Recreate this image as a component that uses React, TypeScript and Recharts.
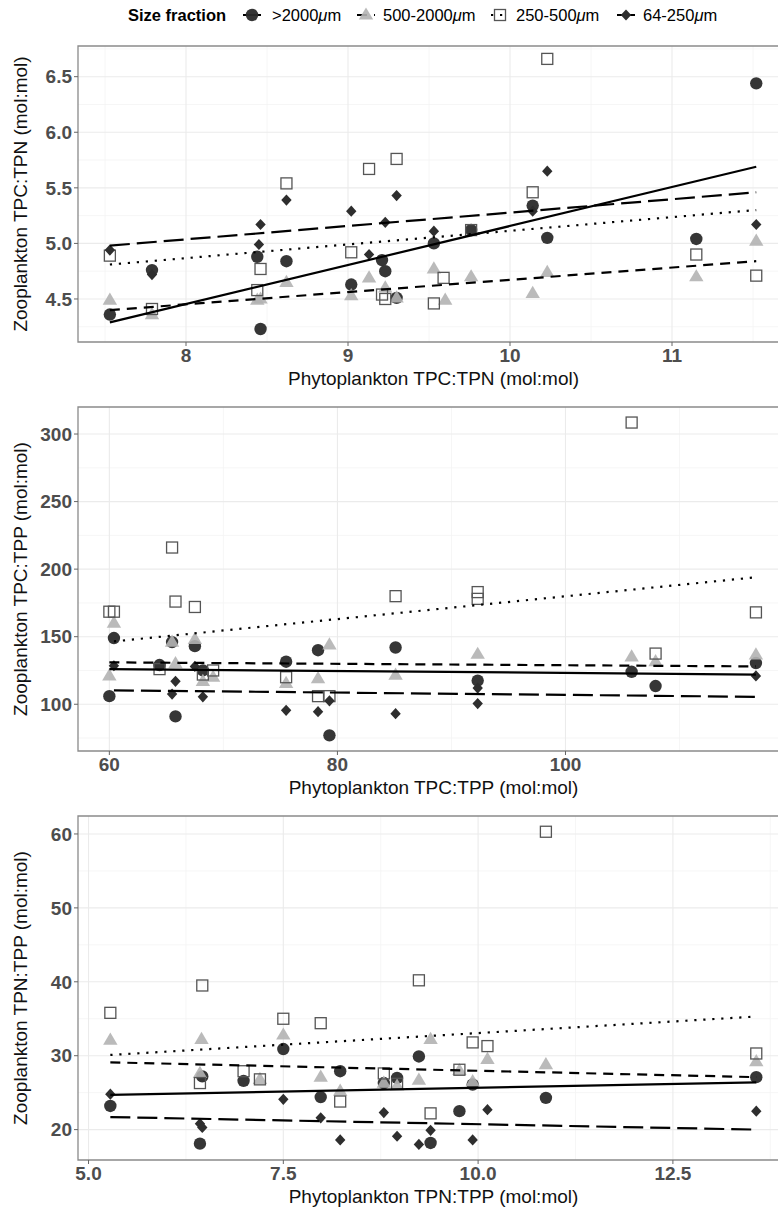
import React from 'react';
import { ScatterChart, Scatter, XAxis, YAxis, CartesianGrid, ReferenceArea, Label } from 'recharts';

const FONT = '"Liberation Sans", Arial, Helvetica, sans-serif';

type Pt = [number, number];

// ---------- Panel 1: TPC:TPN ----------
const cnCircles: Pt[] = [[7.53,4.36],[7.79,4.76],[8.44,4.88],[8.46,4.23],[8.62,4.84],[9.02,4.63],[9.21,4.85],[9.23,4.75],[9.30,4.51],[9.53,5.00],[9.76,5.12],[10.14,5.34],[10.23,5.05],[11.15,5.04],[11.52,6.44]];
const cnTriangles: Pt[] = [[7.53,4.49],[7.79,4.36],[8.44,4.49],[8.46,4.50],[8.62,4.65],[9.02,4.53],[9.13,4.69],[9.23,4.60],[9.30,4.51],[9.53,4.77],[9.60,4.49],[9.76,4.70],[10.14,4.55],[10.23,4.74],[11.15,4.70],[11.52,5.02]];
const cnSquares: Pt[] = [[7.53,4.89],[7.79,4.41],[8.44,4.58],[8.46,4.77],[8.62,5.54],[9.02,4.92],[9.13,5.67],[9.21,4.54],[9.23,4.50],[9.30,5.76],[9.53,4.46],[9.59,4.69],[9.76,5.12],[10.14,5.46],[10.23,6.66],[11.15,4.90],[11.52,4.71]];
const cnDiamonds: Pt[] = [[7.53,4.94],[7.79,4.72],[8.45,4.99],[8.46,5.17],[8.62,5.39],[9.02,5.29],[9.13,4.90],[9.23,5.19],[9.30,5.43],[9.53,5.11],[10.14,5.29],[10.23,5.65],[11.52,5.17]];
const cnFitSolid: Pt[] = [[7.53,4.29],[11.52,5.69]];
const cnFitDashed: Pt[] = [[7.53,4.40],[11.52,4.84]];
const cnFitDotted: Pt[] = [[7.53,4.81],[11.52,5.30]];
const cnFitLong: Pt[] = [[7.53,4.98],[11.52,5.46]];
const cnXTicks = [8, 9, 10, 11];
const cnYTicks = [4.5, 5.0, 5.5, 6.0, 6.5];
const cnXMinor = [7.5, 8.5, 9.5, 10.5, 11.5];
const cnYMinor = [4.25, 4.75, 5.25, 5.75, 6.25, 6.75];

// ---------- Panel 2: TPC:TPP ----------
const cpCircles: Pt[] = [[60.0,106],[60.4,149],[64.4,129],[65.5,146],[65.8,91],[67.5,143],[68.2,125],[75.5,131.5],[78.3,140],[79.3,77],[85.1,142],[92.3,117.5],[105.8,124],[107.9,113.5],[116.7,130.5]];
const cpTriangles: Pt[] = [[60.0,121],[60.4,160],[65.5,146],[65.8,130],[67.5,148],[68.2,117],[69.1,120],[75.5,115.5],[78.3,119],[79.3,144],[85.1,121.5],[92.3,137],[105.8,135],[107.9,131.5],[116.7,136.5]];
const cpSquares: Pt[] = [[60.0,168.5],[60.4,168.5],[64.4,126],[65.5,216],[65.8,176],[67.5,172],[68.2,122],[69.1,125],[75.5,120],[78.3,106],[79.3,106],[85.1,180],[92.3,183],[92.3,178],[105.8,308.5],[107.9,137.5],[116.7,168]];
const cpDiamonds: Pt[] = [[60.4,128.5],[65.5,107.5],[65.8,117],[67.5,128],[68.2,105.5],[75.5,95.5],[78.3,94.5],[79.3,102.5],[85.1,93],[92.3,112],[92.3,100.5],[116.7,121]];
const cpFitSolid: Pt[] = [[60.0,126.0],[116.7,122.0]];
const cpFitDashed: Pt[] = [[60.0,131.0],[116.7,128.0]];
const cpFitDotted: Pt[] = [[60.4,146.5],[116.7,194.0]];
const cpFitLong: Pt[] = [[60.4,110.3],[116.7,105.5]];
const cpXTicks = [60, 80, 100];
const cpYTicks = [100, 150, 200, 250, 300];
const cpXMinor = [70, 90, 110];
const cpYMinor = [75, 125, 175, 225, 275];

// ---------- Panel 3: TPN:TPP ----------
const npCircles: Pt[] = [[5.28,23.2],[6.43,18.1],[6.46,27.2],[6.99,26.6],[7.50,30.9],[7.98,24.4],[8.23,27.9],[8.79,26.3],[8.96,27.0],[9.24,29.9],[9.39,18.2],[9.76,22.5],[9.93,26.1],[10.87,24.3],[13.57,27.1]];
const npTriangles: Pt[] = [[5.28,32.1],[6.43,27.6],[6.45,32.2],[7.20,26.8],[7.50,32.8],[7.98,27.1],[8.23,25.2],[8.79,26.3],[8.96,25.9],[9.24,26.7],[9.39,32.2],[9.76,28.0],[9.93,26.5],[10.12,29.5],[10.87,28.8],[13.57,29.2]];
const npSquares: Pt[] = [[5.28,35.8],[6.43,26.3],[6.46,39.5],[6.99,27.9],[7.20,26.8],[7.50,35.0],[7.98,34.4],[8.23,23.8],[8.79,27.6],[8.96,26.2],[9.24,40.2],[9.39,22.2],[9.76,28.1],[9.93,31.8],[10.12,31.3],[10.87,60.3],[13.57,30.3]];
const npDiamonds: Pt[] = [[5.28,24.8],[6.43,20.8],[6.46,20.3],[7.50,24.1],[7.98,21.6],[8.23,18.6],[8.79,22.3],[8.96,19.1],[9.24,18.0],[9.39,19.9],[9.93,18.6],[10.12,22.7],[13.57,22.5]];
const npFitSolid: Pt[] = [[5.28,24.7],[13.57,26.4]];
const npFitDashed: Pt[] = [[5.28,29.1],[13.57,27.1]];
const npFitDotted: Pt[] = [[5.28,30.1],[13.57,35.3]];
const npFitLong: Pt[] = [[5.28,21.7],[13.57,20.0]];
const npXTicks = [5.0, 7.5, 10.0, 12.5];
const npYTicks = [20, 30, 40, 50, 60];
const npXMinor = [6.25, 8.75, 11.25, 13.75];
const npYMinor = [25, 35, 45, 55];

const legendLabels = ['>2000', '500-2000', '250-500', '64-250'];

const toObj = (arr: Pt[]) => arr.map(([x, y]) => ({ x, y }));

const C_CIRCLE = '#2b2b2b';
const C_TRI = '#b2b2b2';
const C_SQ = '#555555';
const C_DIA = '#2e2e2e';

const DASH_SOLID = undefined;
const DASH_SHORT = '10 7';
const DASH_DOT = '2.2 6.8';
const DASH_LONG = '20 7';

function CircleShape(p: any) {
  if (p.cx == null) return <g />;
  return <circle cx={p.cx} cy={p.cy} r={6.2} fill={C_CIRCLE} fillOpacity={0.95} />;
}
function TriangleShape(p: any) {
  if (p.cx == null) return <g />;
  const { cx, cy } = p;
  return <polygon points={`${cx},${cy - 7.6} ${cx - 7.2},${cy + 4.6} ${cx + 7.2},${cy + 4.6}`} fill={C_TRI} fillOpacity={0.9} />;
}
function SquareShape(p: any) {
  if (p.cx == null) return <g />;
  return <rect x={p.cx - 5.5} y={p.cy - 5.5} width={11} height={11} fill="none" stroke={C_SQ} strokeWidth={1.3} />;
}
function DiamondShape(p: any) {
  if (p.cx == null) return <g />;
  const { cx, cy } = p;
  return <polygon points={`${cx},${cy - 5.6} ${cx + 5.2},${cy} ${cx},${cy + 5.6} ${cx - 5.2},${cy}`} fill={C_DIA} />;
}
const NoShape = () => <g />;

interface PanelDef {
  top: number;
  height: number;
  marginTop: number;
  xAxisHeight: number;
  xDomain: [number, number];
  yDomain: [number, number];
  xTicks: number[];
  yTicks: number[];
  xMinor: number[];
  yMinor: number[];
  xFmt: (v: number) => string;
  yFmt: (v: number) => string;
  xTitle: string;
  yTitle: string;
  circles: Pt[];
  triangles: Pt[];
  squares: Pt[];
  diamonds: Pt[];
  fitSolid: Pt[];
  fitDashed: Pt[];
  fitDotted: Pt[];
  fitLong: Pt[];
}

const tickStyle = { fill: '#4d4d4d', fontSize: 19, fontWeight: 'bold', fontFamily: FONT };

function Panel(d: PanelDef) {
  const xTitleContent = (props: any) => {
    const vb = props.viewBox || {};
    const cx = vb.x + vb.width / 2;
    return (
      <text x={cx} y={vb.y + 43} textAnchor="middle" fontSize={19} fontFamily={FONT} fill="#111">
        {d.xTitle}
      </text>
    );
  };
  const yTitleContent = (props: any) => {
    const vb = props.viewBox || {};
    const cx = 27;
    const cy = vb.y + vb.height / 2;
    return (
      <text x={cx} y={cy} transform={`rotate(-90 ${cx} ${cy})`} textAnchor="middle" fontSize={19} fontFamily={FONT} fill="#111">
        {d.yTitle}
      </text>
    );
  };
  return (
    <div style={{ position: 'absolute', left: 0, top: d.top }}>
      <ScatterChart width={800} height={d.height} margin={{ top: d.marginTop, right: 11, bottom: 0, left: 0 }}>
        <CartesianGrid horizontalValues={d.yMinor} verticalValues={d.xMinor} stroke="#f4f4f4" strokeWidth={0.8} />
        <CartesianGrid horizontalValues={d.yTicks} verticalValues={d.xTicks} stroke="#ebebeb" strokeWidth={1.1} />
        <XAxis
          type="number"
          dataKey="x"
          domain={d.xDomain}
          allowDataOverflow
          ticks={d.xTicks}
          interval={0}
          tickFormatter={d.xFmt}
          height={d.xAxisHeight}
          axisLine={false}
          tickLine={{ stroke: '#666', strokeWidth: 1 }}
          tickSize={4}
          tickMargin={3}
          tick={tickStyle}
        >
          <Label content={xTitleContent} />
        </XAxis>
        <YAxis
          type="number"
          dataKey="y"
          domain={d.yDomain}
          allowDataOverflow
          ticks={d.yTicks}
          interval={0}
          tickFormatter={d.yFmt}
          width={78}
          axisLine={false}
          tickLine={{ stroke: '#666', strokeWidth: 1 }}
          tickSize={4}
          tickMargin={2}
          tick={tickStyle}
        >
          <Label content={yTitleContent} />
        </YAxis>
        <ReferenceArea x1={d.xDomain[0]} x2={d.xDomain[1]} y1={d.yDomain[0]} y2={d.yDomain[1]} fill="none" stroke="#8a8a8a" strokeWidth={1.3} ifOverflow="visible" />
        <Scatter data={toObj(d.circles)} shape={CircleShape} isAnimationActive={false} />
        <Scatter data={toObj(d.triangles)} shape={TriangleShape} isAnimationActive={false} />
        <Scatter data={toObj(d.squares)} shape={SquareShape} isAnimationActive={false} />
        <Scatter data={toObj(d.diamonds)} shape={DiamondShape} isAnimationActive={false} />
        <Scatter data={toObj(d.fitSolid)} shape={NoShape} line={{ stroke: '#000', strokeWidth: 2.2 }} isAnimationActive={false} />
        <Scatter data={toObj(d.fitDashed)} shape={NoShape} line={{ stroke: '#000', strokeWidth: 2.2, strokeDasharray: DASH_SHORT }} isAnimationActive={false} />
        <Scatter data={toObj(d.fitDotted)} shape={NoShape} line={{ stroke: '#000', strokeWidth: 2.2, strokeDasharray: DASH_DOT }} isAnimationActive={false} />
        <Scatter data={toObj(d.fitLong)} shape={NoShape} line={{ stroke: '#000', strokeWidth: 2.2, strokeDasharray: DASH_LONG }} isAnimationActive={false} />
      </ScatterChart>
    </div>
  );
}

function LegendKey({ cx, kind }: { cx: number; kind: number }) {
  const cy = 15;
  const dashes = [DASH_SOLID, DASH_SHORT, DASH_DOT, DASH_LONG];
  const shapes = [CircleShape, TriangleShape, SquareShape, DiamondShape];
  const S = shapes[kind];
  return (
    <g>
      <line x1={cx - 9} x2={cx + 9} y1={cy} y2={cy} stroke="#000" strokeWidth={2} strokeDasharray={dashes[kind]} />
      <S cx={cx} cy={cy} />
    </g>
  );
}

function Legend() {
  const keyX = [252, 366, 500, 626];
  const textX = [272, 383, 516, 643];
  return (
    <svg width={778} height={32} style={{ position: 'absolute', left: 0, top: 0 }}>
      <text x={128} y={21} fontSize={16.5} fontWeight="bold" fontFamily={FONT} fill="#000">Size fraction</text>
      {legendLabels.map((lab, i) => (
        <g key={lab}>
          <LegendKey cx={keyX[i]} kind={i} />
          <text x={textX[i]} y={21} fontSize={16.5} fontFamily={FONT} fill="#000">
            {lab}
            <tspan fontStyle="italic">μ</tspan>
            m
          </text>
        </g>
      ))}
    </svg>
  );
}

const fmt1 = (v: number) => v.toFixed(1);
const fmt0 = (v: number) => String(Math.round(v));

export default function App() {
  return (
    <div style={{ position: 'absolute', left: 0, top: 0, width: 778, height: 1209, overflow: 'hidden', background: '#fff' }}>
      <Panel
        top={0}
        height={400}
        marginTop={46}
        xAxisHeight={58}
        xDomain={[7.3333, 11.7222]}
        yDomain={[4.113, 6.776]}
        xTicks={cnXTicks}
        yTicks={cnYTicks}
        xMinor={cnXMinor}
        yMinor={cnYMinor}
        xFmt={fmt0}
        yFmt={fmt1}
        xTitle="Phytoplankton TPC:TPN (mol:mol)"
        yTitle="Zooplankton TPC:TPN (mol:mol)"
        circles={cnCircles}
        triangles={cnTriangles}
        squares={cnSquares}
        diamonds={cnDiamonds}
        fitSolid={cnFitSolid}
        fitDashed={cnFitDashed}
        fitDotted={cnFitDotted}
        fitLong={cnFitLong}
      />
      <Panel
        top={400}
        height={400}
        marginTop={7}
        xAxisHeight={49}
        xDomain={[57.25, 119.6]}
        yDomain={[65.4, 320.0]}
        xTicks={cpXTicks}
        yTicks={cpYTicks}
        xMinor={cpXMinor}
        yMinor={cpYMinor}
        xFmt={fmt0}
        yFmt={fmt0}
        xTitle="Phytoplankton TPC:TPP (mol:mol)"
        yTitle="Zooplankton TPC:TPP (mol:mol)"
        circles={cpCircles}
        triangles={cpTriangles}
        squares={cpSquares}
        diamonds={cpDiamonds}
        fitSolid={cpFitSolid}
        fitDashed={cpFitDashed}
        fitDotted={cpFitDotted}
        fitLong={cpFitLong}
      />
      <Panel
        top={800}
        height={409}
        marginTop={16}
        xAxisHeight={49}
        xDomain={[4.865, 13.99]}
        yDomain={[15.89, 62.43]}
        xTicks={npXTicks}
        yTicks={npYTicks}
        xMinor={npXMinor}
        yMinor={npYMinor}
        xFmt={fmt1}
        yFmt={fmt0}
        xTitle="Phytoplankton TPN:TPP (mol:mol)"
        yTitle="Zooplankton TPN:TPP (mol:mol)"
        circles={npCircles}
        triangles={npTriangles}
        squares={npSquares}
        diamonds={npDiamonds}
        fitSolid={npFitSolid}
        fitDashed={npFitDashed}
        fitDotted={npFitDotted}
        fitLong={npFitLong}
      />
      <Legend />
    </div>
  );
}
